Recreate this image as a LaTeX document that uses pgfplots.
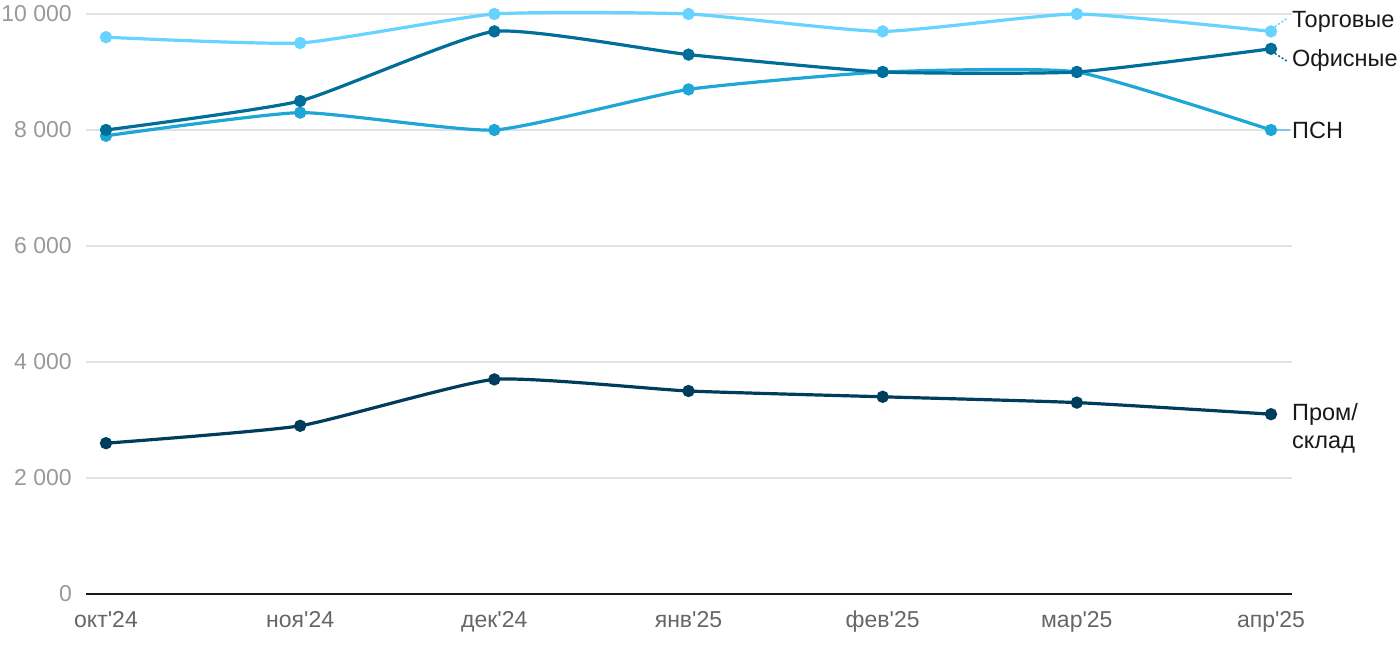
\documentclass[border=0pt]{standalone}
\usepackage{fontspec}
\setmainfont{Liberation Sans}[Ligatures=TeXOff]
\usepackage{pgfplots}
\pgfplotsset{compat=1.18}
\definecolor{ctorg}{HTML}{66D4FF}
\definecolor{cpsn}{HTML}{1EA6D6}
\definecolor{cofis}{HTML}{006E99}
\definecolor{cprom}{HTML}{003D5C}
\definecolor{cgrid}{HTML}{E2E2E2}
\begin{document}
\begin{tikzpicture}
\begin{axis}[
  at={(86pt,56pt)}, anchor=south west,
  scale only axis, width=1206pt, height=580pt,
  xmin=-0.103, xmax=6.108, ymin=0, ymax=10000,
  axis line style={draw=none},
  clip=false,
  ymajorgrids, grid style={cgrid, line width=1.5pt},
  major tick length=0pt,
  xtick={0,...,6},
  xticklabels={окт'24,ноя'24,дек'24,янв'25,фев'25,мар'25,апр'25},
  ytick={0,2000,4000,6000,8000,10000},
  yticklabels={0,{2 000},{4 000},{6 000},{8 000},{10 000}},
  yticklabel style={anchor=east, inner sep=0pt, xshift=-14pt, font=\fontsize{23}{27}\selectfont, text=black!40},
  xticklabel style={anchor=north, inner sep=0pt, yshift=-17pt, font=\fontsize{23}{27}\selectfont, text=black!60},
  every axis plot/.append style={line width=3.2pt, mark=*, mark size=4.5pt, smooth, tension=0.3},
]
\draw[black!90, line width=2pt] (axis cs:-0.103,0) -- (axis cs:6.108,0);
\addplot[cprom, mark options={fill=cprom}] coordinates {(0,2600) (1,2900) (2,3700) (3,3500) (4,3400) (5,3300) (6,3100)};
\addplot[cpsn, mark options={fill=cpsn}] coordinates {(0,7900) (1,8300) (2,8000) (3,8700) (4,9000) (5,9000) (6,8000)};
\addplot[cofis, mark options={fill=cofis}] coordinates {(0,8000) (1,8500) (2,9700) (3,9300) (4,9000) (5,9000) (6,9400)};
\addplot[ctorg, mark options={fill=ctorg}] coordinates {(0,9600) (1,9500) (2,10000) (3,10000) (4,9700) (5,10000) (6,9700)};
\draw[ctorg, line width=1.5pt, dash pattern=on 2pt off 2pt] (axis cs:6.02,9780) -- (axis cs:6.085,9930);
\draw[cofis, line width=1.5pt, dash pattern=on 2pt off 2pt] (axis cs:6.02,9320) -- (axis cs:6.085,9180);
\draw[cpsn!60, line width=1.5pt] (axis cs:6.03,8000) -- (axis cs:6.1,8000);
\begin{scope}[every node/.style={anchor=west, inner sep=0pt, text=black!90, font=\fontsize{23.5}{28}\selectfont}]
\node at (axis cs:6.108,9862) {Торговые};
\node at (axis cs:6.108,9207) {Офисные};
\node at (axis cs:6.108,8000) {ПСН};
\node[align=left] at (axis cs:6.108,2850) {Пром/\\склад};
\end{scope}
\end{axis}
\pgfresetboundingbox
\path[use as bounding box] (0,0) rectangle (1400pt,650pt);
\end{tikzpicture}
\end{document}
